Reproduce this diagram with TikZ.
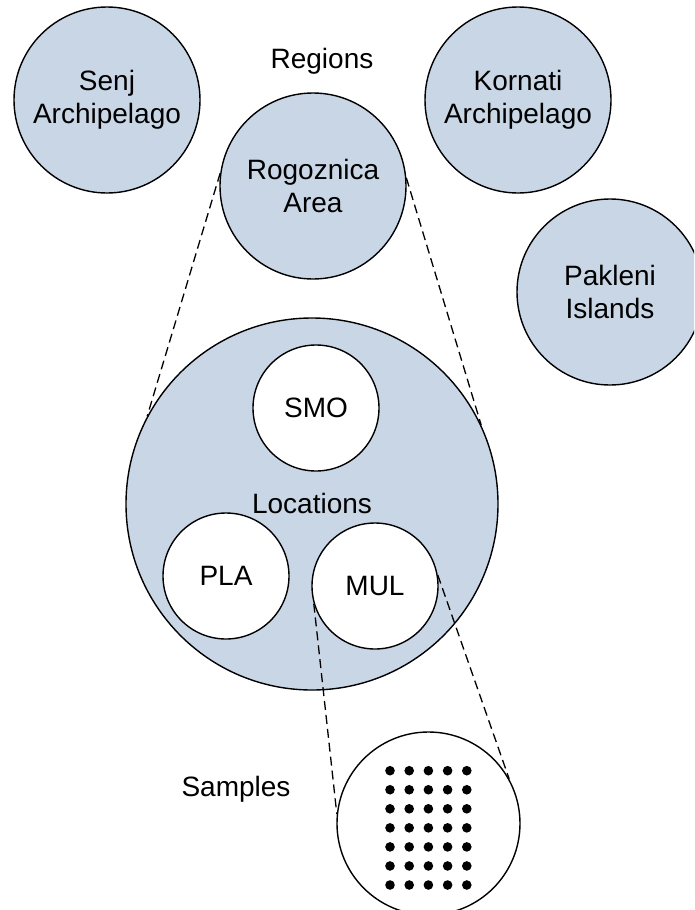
\documentclass[tikz,border=0pt]{standalone}
\usepackage{fontspec}
\setmainfont{Liberation Sans}
\definecolor{regfill}{RGB}{201,214,229}
\begin{document}
\begin{tikzpicture}[x=1pt,y=-1pt,
  txt/.style={font=\fontsize{28}{33}\selectfont, align=center},
  region/.style={circle, draw=black, line width=1.4pt, fill=regfill, inner sep=0pt, minimum size=186pt, txt},
  loccircle/.style={circle, draw=black, line width=1.4pt, fill=white, inner sep=0pt, minimum size=126pt, txt},
  zoomline/.style={draw=black, line width=1.3pt, dash pattern=on 9pt off 5pt}
]
\useasboundingbox (0,0) rectangle (694,910);
\clip (0,0) rectangle (694,910);
\fill[white] (0,0) rectangle (694,910);
% regions
\node[region] (senj) at (107,100) {Senj\\Archipelago};
\node[region] (kornati) at (518,100) {Kornati\\Archipelago};
\node[region] (rog) at (313,186) {Rogoznica\\Area};
\node[region] (pak) at (610,292) {Pakleni\\Islands};
\node[txt] (regions) at (322,61) {Regions};
% locations
\node[region, minimum size=372pt] (loc) at (312,504) {};
\node[txt] (loclabel) at (312,503) {Locations};
\node[loccircle] (smo) at (316,408) {SMO};
\node[loccircle] (pla) at (226,576) {PLA};
\node[loccircle] (mul) at (375,586) {MUL};
% samples
\node[circle, draw=black, line width=1.4pt, fill=white, inner sep=0pt, minimum size=183pt] (samp) at (428.5,823.5) {};
\node[txt] (samplabel) at (236,789) {Samples};
\foreach \i in {0,...,4}{
  \foreach \j in {0,...,6}{
    \fill (390+\i*19.2, 770.7+\j*19.05) circle (4.8pt);
  }
}
% zoom lines
\draw[zoomline] (rog.172) -- (loc.152.6);
\draw[zoomline] (rog.5.5) -- (loc.25.5);
\draw[zoomline] (mul.196) -- (samp.174.7);
\draw[zoomline] (mul.10) -- (samp.29.7);
\end{tikzpicture}
\end{document}
